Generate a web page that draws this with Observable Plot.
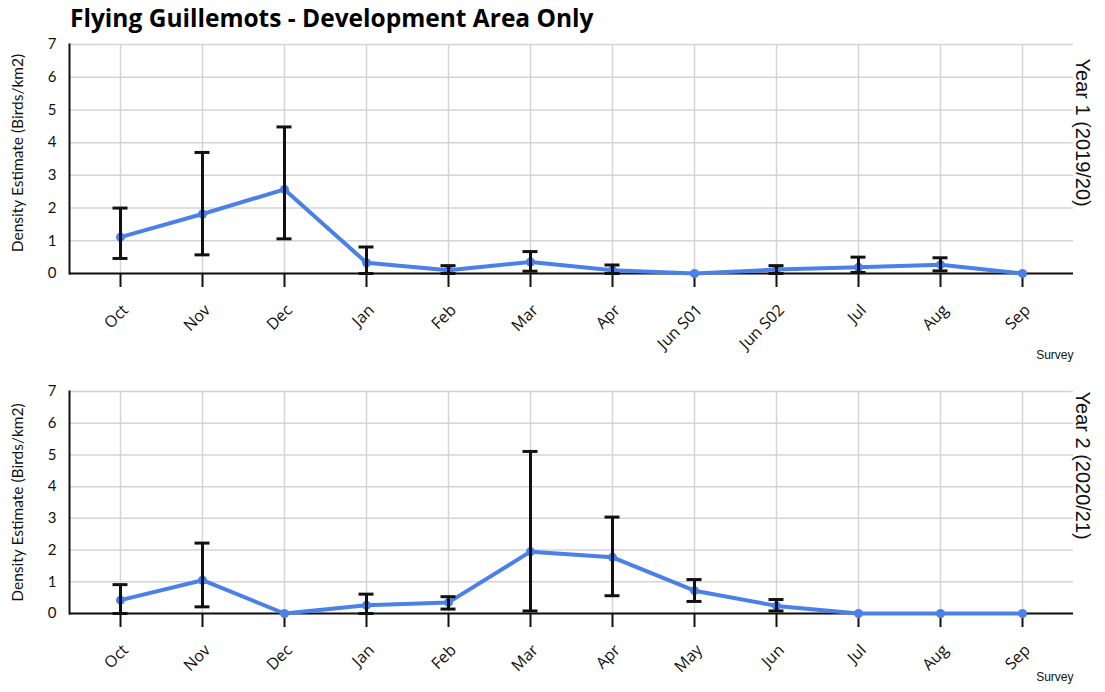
<!DOCTYPE html>
<html>
<head>
<meta charset="utf-8">
<script src="https://cdn.jsdelivr.net/npm/d3@7"></script>
<script src="https://cdn.jsdelivr.net/npm/@observablehq/plot@0.6"></script>
<style>
  body { margin: 0; background: #fff; }
  #title { height: 36px; padding-left: 70px; font: bold 24.5px 'Open Sans', sans-serif; line-height: 36px; color: #000; white-space: nowrap; }
  svg { display: block; }
</style>
</head>
<body>
<div id="title">Flying Guillemots - Development Area Only</div>
<div id="charts"></div>
<script>
// Year 1 (2019/20) surveys: density estimate with lower/upper confidence limits
const year1Surveys = ["Oct", "Nov", "Dec", "Jan", "Feb", "Mar", "Apr", "Jun S01", "Jun S02", "Jul", "Aug", "Sep"];
const year1Density = [1.11, 1.82, 2.57, 0.33, 0.10, 0.35, 0.10, 0, 0.12, 0.19, 0.27, 0];
const year1Lower   = [0.46, 0.57, 1.06, 0.00, 0.00, 0.07, 0.00, null, 0.00, 0.03, 0.08, null];
const year1Upper   = [2.00, 3.70, 4.48, 0.81, 0.24, 0.67, 0.26, null, 0.24, 0.50, 0.48, null];

// Year 2 (2020/21) surveys
const year2Surveys = ["Oct", "Nov", "Dec", "Jan", "Feb", "Mar", "Apr", "May", "Jun", "Jul", "Aug", "Sep"];
const year2Density = [0.42, 1.05, 0, 0.26, 0.35, 1.95, 1.77, 0.72, 0.24, 0, 0, 0];
const year2Lower   = [0.00, 0.21, null, 0.00, 0.14, 0.08, 0.56, 0.38, 0.08, null, null, null];
const year2Upper   = [0.91, 2.22, null, 0.61, 0.53, 5.11, 3.04, 1.07, 0.44, null, null, null];

const yTicks = [0, 1, 2, 3, 4, 5, 6, 7];
const yTitle = "Density Estimate (Birds/km2)";
const xTitle = "Survey";

const BLUE = "#4a80e8";
const GRID = "#d4d4d4";
const LABEL_FONT = "Lato, 'Open Sans', sans-serif";
const TICK_FONT = "'Open Sans', Lato, sans-serif";
const SIDE_FONT = "'Liberation Sans', Arial, sans-serif";

function panel({surveys, density, lower, upper, label, height, marginTop, marginBottom, labelDy, yTitleDy, surveyDy}) {
  const rows = surveys.map((s, i) => ({survey: s, density: density[i], lower: lower[i], upper: upper[i]}));
  const bars = rows.filter(d => d.lower != null && d.upper != null);
  // error-bar caps: zero-length horizontal rules widened by negative insets
  const cap = (field) => Plot.ruleY(bars, {x1: "survey", x2: "survey", y: field, stroke: "#111", strokeWidth: 3, insetLeft: -7.5, insetRight: -7.5});
  return Plot.plot({
    width: 1105,
    height,
    marginLeft: 69,
    marginRight: 32,
    marginTop,
    marginBottom,
    style: {fontFamily: LABEL_FONT, color: "#111", background: "#fff", overflow: "visible"},
    x: {type: "point", domain: surveys, padding: 0.6, label: null},
    y: {domain: [0, 7], label: null},
    marks: [
      Plot.gridY(yTicks, {stroke: GRID, strokeOpacity: 1, strokeWidth: 1.5}),
      Plot.gridX(surveys, {stroke: GRID, strokeOpacity: 1, strokeWidth: 1.5}),
      Plot.axisY(yTicks, {tickSize: 0, tickPadding: 13, fontSize: 15, label: null}),
      Plot.axisX(surveys, {tickSize: 14, strokeWidth: 2, stroke: "#111", tickFormat: () => "", label: null}),
      Plot.axisX(surveys, {tickSize: 0, tickPadding: 34, dx: 5, tickRotate: -45, fontSize: 16, fontFamily: TICK_FONT, label: null}),
      Plot.ruleY([0], {stroke: "#111", strokeWidth: 2}),
      Plot.frame({anchor: "left", stroke: "#111", strokeWidth: 2}),
      Plot.line(rows, {x: "survey", y: "density", stroke: BLUE, strokeWidth: 4}),
      Plot.dot(rows, {x: "survey", y: "density", r: 4.5, fill: BLUE}),
      Plot.ruleX(bars, {x: "survey", y1: "lower", y2: "upper", stroke: "#111", strokeWidth: 3}),
      cap("lower"),
      cap("upper"),
      Plot.text([yTitle], {frameAnchor: "left", textAnchor: "middle", rotate: -90, dx: -51, dy: yTitleDy, fontSize: 15.5, fill: "#111"}),
      Plot.text([label], {frameAnchor: "top-right", rotate: 90, textAnchor: "start", dx: 17, dy: labelDy, fontSize: 20, fontFamily: SIDE_FONT, fill: "#111"}),
      Plot.text([xTitle], {frameAnchor: "bottom-right", textAnchor: "end", dy: surveyDy, fontSize: 12, fontFamily: SIDE_FONT, fill: "#111"})
    ]
  });
}

const charts = document.getElementById("charts");
charts.append(panel({
  surveys: year1Surveys, density: year1Density, lower: year1Lower, upper: year1Upper,
  label: "Year 1 (2019/20)", height: 330, marginTop: 8, marginBottom: 93,
  labelDy: 14, yTitleDy: -6, surveyDy: 85
}));
charts.append(panel({
  surveys: year2Surveys, density: year2Density, lower: year2Lower, upper: year2Upper,
  label: "Year 2 (2020/21)", height: 326, marginTop: 25, marginBottom: 79,
  labelDy: 0, yTitleDy: 0, surveyDy: 67
}));
</script>
</body>
</html>
